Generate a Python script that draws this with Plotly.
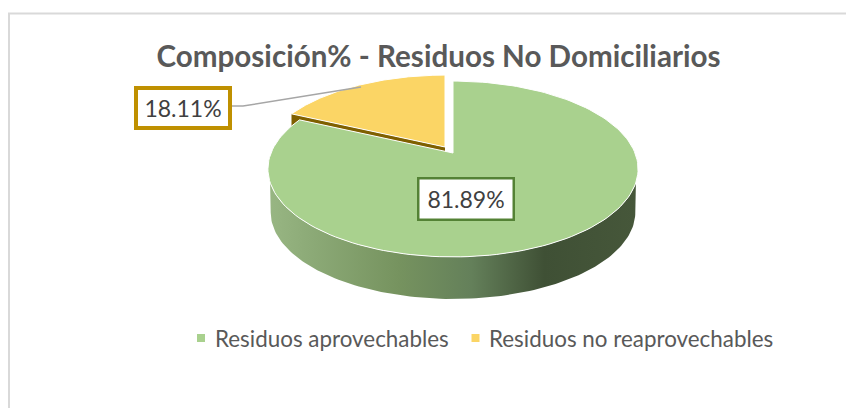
import numpy as np
import plotly.graph_objects as go

# datos
categorias = ['Residuos aprovechables', 'Residuos no reaprovechables']
valores = [81.89, 18.11]
colores = ['#A9D18E', '#FBD565']
titulo = 'Composición% - Residuos No Domiciliarios'

FUENTE = 'Lato'
GRIS = '#595959'
MARGEN = 8  # margen del body de la pagina

# proyeccion en perspectiva del disco (pixeles de la ventana)
RX, A, K = 182, 85, 0.182
PROF, ESC = 43.6, 0.985


def arco(x0, y0, th, esc=1.0):
    th = np.radians(th)
    den = 1 + K * np.cos(th)
    return x0 + esc * RX * np.sin(th) / den, y0 - esc * A * np.cos(th) / den


def rebanada(x0, y0, ini, fin):
    xs, ys = arco(x0, y0, np.linspace(ini, fin, 160))
    return np.r_[x0, xs, x0], np.r_[y0, ys, y0]


fin_verde = 360 * valores[0] / sum(valores)
cx_v, cy_v = 453, 153     # vertice rebanada verde
cx_a, cy_a = 445, 147     # vertice rebanada amarilla

fig = go.Figure()

# pared oscura del corte de la rebanada amarilla
xt, yt = arco(cx_a, cy_a, np.array([fin_verde]))
fig.add_trace(go.Scatter(
    x=[cx_a, xt[0], xt[0], cx_a], y=[cy_a, yt[0], yt[0] + PROF, cy_a + PROF],
    mode='lines', fill='toself', fillcolor='#7F6000', line=dict(width=0),
    showlegend=False, hoverinfo='skip'))

# tapa amarilla
xa, ya = rebanada(cx_a, cy_a, fin_verde, 360)
fig.add_trace(go.Scatter(
    x=xa, y=ya, mode='lines', fill='toself', fillcolor=colores[1],
    line=dict(color='white', width=1), showlegend=False, hoverinfo='skip'))

# pared frontal verde con degradado
xs1, ys1 = arco(cx_v, cy_v, np.linspace(109, 251, 120))
xs2, ys2 = arco(cx_v, cy_v + PROF, np.linspace(259.5, 100.5, 120), ESC)
fig.add_trace(go.Scatter(
    x=np.r_[xs1, xs2, xs1[0]], y=np.r_[ys1, ys2, ys1[0]],
    mode='lines', fill='toself', line=dict(width=0),
    fillgradient=dict(type='horizontal', colorscale=[
        [0, '#98B683'], [0.1, '#8DAB78'], [0.35, '#76935F'], [0.55, '#64805A'],
        [0.75, '#3F5035'], [1, '#46573A']]),
    showlegend=False, hoverinfo='skip'))

# tapa verde
xv, yv = rebanada(cx_v, cy_v, 0, fin_verde)
fig.add_trace(go.Scatter(
    x=xv, y=yv, mode='lines', fill='toself', fillcolor=colores[0],
    line=dict(color='white', width=1), showlegend=False, hoverinfo='skip'))

# linea guia de la etiqueta amarilla
fig.add_trace(go.Scatter(
    x=[232, 243, 361], y=[106, 106, 87], mode='lines',
    line=dict(color='#A6A6A6', width=1.5), showlegend=False, hoverinfo='skip'))

# leyenda
fig.add_trace(go.Scatter(
    x=[201, 475.5], y=[338, 338], mode='markers',
    marker=dict(symbol='square', size=8, color=colores, line=dict(width=0)),
    showlegend=False, hoverinfo='skip'))
for x_txt, nombre in zip([213, 487], categorias):
    fig.add_annotation(x=x_txt, y=338, text=nombre, showarrow=False, xanchor='left',
                       font=dict(family=FUENTE, size=22.4, color=GRIS))

# etiquetas de datos
for xc, yc, v, borde, bw in [(183, 107.5, valores[1], '#BF9000', 4), (466, 199, valores[0], '#548235', 2.5)]:
    fig.add_annotation(x=xc, y=yc, text=f'{v:.2f}%', showarrow=False,
                       width=98 - 2 * bw - 2, height=44 - 2 * bw - 2, borderpad=1,
                       bgcolor='white', bordercolor=borde, borderwidth=bw,
                       font=dict(family=FUENTE, size=23, color='#404040'))

fig.update_layout(
    width=854 - MARGEN, height=408 - MARGEN, margin=dict(l=0, r=0, t=0, b=0),
    paper_bgcolor='white', plot_bgcolor='white', showlegend=False,
    title=dict(text=f'<b>{titulo}</b>', x=(438.5 - MARGEN) / 846, xanchor='center',
               y=1 - (57 - MARGEN) / 400, yanchor='middle',
               font=dict(family=FUENTE, size=29.6, color=GRIS)),
    xaxis=dict(range=[MARGEN, 854], visible=False, fixedrange=True),
    yaxis=dict(range=[408, MARGEN], visible=False, fixedrange=True),
    shapes=[dict(type='rect', x0=9, y0=13.5, x1=880, y1=430,
                 line=dict(color='#D9D9D9', width=2), layer='below')],
)

fig.write_html('out.html')
